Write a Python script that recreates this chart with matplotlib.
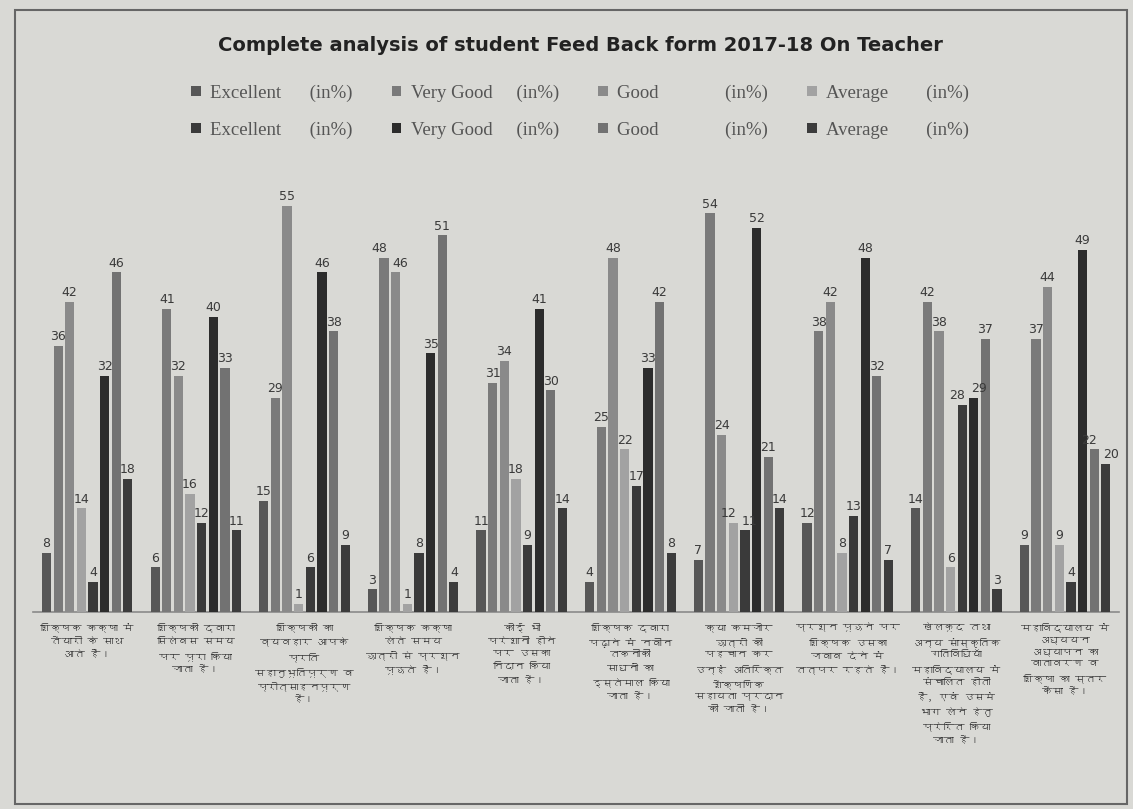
import numpy as np
import matplotlib
matplotlib.use("Agg")
import matplotlib.pyplot as plt
from matplotlib import font_manager
from matplotlib.ft2font import FT2Font
from matplotlib.patches import Rectangle

# ---------------- data ----------------
categories = [
    "शिक्षक कक्षा में\nतैयारी के साथ\nआते हैं।",
    "शिक्षकों द्वारा\nसिलेबस समय\nपर पूरा किया\nजाता है।",
    "शिक्षकों का\nव्यवहार आपके\nप्रति\nसहानुभूतिपूर्ण व\nप्रोत्साहनपूर्ण\nहै।",
    "शिक्षक कक्षा\nलेते समय\nछात्रों से प्रश्न\nपूछते हैं।",
    "कोई भी\nपरेशानी होने\nपर उसका\nनिदान किया\nजाता है।",
    "शिक्षक द्वारा\nपढ़ाने में नवीन\nतकनीकी\nसाधनों का\nइस्तेमाल किया\nजाता है।",
    "क्या कमजोर\nछात्रों की\nपहचान कर\nउन्हें अतिरिक्त\nशैक्षणिक\nसहायता प्रदान\nकी जाती है।",
    "प्रश्न पूछने पर\nशिक्षक उसका\nजवाब देने में\nतत्पर रहते हैं।",
    "खेलकूद तथा\nअन्य सांस्कृतिक\nगतिविधियाँ\nमहाविद्यालय में\nसंचालित होती\nहैं, एवं उसमें\nभाग लेने हेतु\nप्रेरित किया\nजाता है।",
    "महाविद्यालय में\nअध्ययन\nअध्यापन का\nवातावरण व\nशिक्षा का स्तर\nकैसा है।",
]

series_names = [
    "Excellent      (in%)", "Very Good     (in%)", "Good              (in%)", "Average        (in%)",
    "Excellent      (in%)", "Very Good     (in%)", "Good              (in%)", "Average        (in%)",
]

excellent_1 = [8, 6, 15, 3, 11, 4, 7, 12, 14, 9]
very_good_1 = [36, 41, 29, 48, 31, 25, 54, 38, 42, 37]
good_1      = [42, 32, 55, 46, 34, 48, 24, 42, 38, 44]
average_1   = [14, 16, 1, 1, 18, 22, 12, 8, 6, 9]
excellent_2 = [4, 12, 6, 8, 9, 17, 11, 13, 28, 4]
very_good_2 = [32, 40, 46, 35, 41, 33, 52, 48, 29, 49]
good_2      = [46, 33, 38, 51, 30, 42, 21, 32, 37, 22]
average_2   = [18, 11, 9, 4, 14, 8, 14, 7, 3, 20]

series_values = [excellent_1, very_good_1, good_1, average_1,
                 excellent_2, very_good_2, good_2, average_2]

title = "Complete analysis of student Feed Back form 2017-18 On Teacher"

# ---------------- styles ----------------
colors = ["#575757", "#7a7a7a", "#8a8a8a", "#a2a2a2",
          "#3a3a3a", "#2c2c2c", "#727272", "#3c3c3c"]
bg = "#d9d9d5"


def find_devanagari_font():
    for fe in font_manager.fontManager.ttflist:
        try:
            f = FT2Font(fe.fname)
            cm = f.get_charmap()
            if 0x0915 in cm and 0x093F in cm:
                return fe.name
        except Exception:
            continue
    return None


deva = find_devanagari_font()
label_family = [deva, "DejaVu Sans"] if deva else ["DejaVu Sans"]

fig = plt.figure(figsize=(11.33, 8.09), dpi=100, facecolor=bg)
ax = fig.add_axes([0.029, 0.244, 0.959, 0.547], facecolor=bg)

n_series = len(series_values)
x = np.arange(len(categories))
slot = 0.107
width = 0.085
bars_all = []
labels_all = []
for i, vals in enumerate(series_values):
    offs = (i - (n_series - 1) / 2) * slot
    bars = ax.bar(x + offs, vals, width, color=colors[i], label=series_names[i],
                  edgecolor="none", zorder=3)
    bars_all.append(bars)
    anns = ax.bar_label(bars, labels=[str(v) for v in vals], padding=2, fontsize=9,
                        color="#3a3a3a", family="DejaVu Sans", zorder=6)
    labels_all.append(anns)

# nudge apart data labels of neighbouring bars with nearly equal heights
for g in range(len(categories)):
    for i in range(n_series - 1):
        a, b = series_values[i][g], series_values[i + 1][g]
        if abs(a - b) <= 2 and a >= 10 and b >= 10:
            labels_all[i][g].xyann = (-3.5, 2)
            labels_all[i + 1][g].xyann = (3.5, 2)

ax.set_xlim(-0.5, len(categories) - 0.5)
ax.set_ylim(0, 60)
ax.set_yticks([])
for s in ["left", "right", "top"]:
    ax.spines[s].set_visible(False)
ax.spines["bottom"].set_color("#8a8a8a")
ax.spines["bottom"].set_linewidth(1.2)
ax.set_xticks(x)
ax.set_xticklabels(categories, fontsize=7.5, family=label_family, style="italic",
                   color="#333333", linespacing=1.55)
ax.tick_params(axis="x", length=0, pad=8)

fig.text(0.512, 0.944, title, ha="center", va="center", fontsize=14,
         fontweight="bold", color="#222222", family="DejaVu Sans")

handles = [b for b in bars_all]
order = [0, 4, 1, 5, 2, 6, 3, 7]
leg = fig.legend([handles[k] for k in order], [series_names[k] for k in order],
                 loc="center", bbox_to_anchor=(0.512, 0.862), ncol=4, frameon=False,
                 prop={"family": "Liberation Serif", "size": 13.5},
                 handlelength=0.5, handleheight=0.5, handletextpad=0.5,
                 columnspacing=2.1, labelspacing=1.05)
for t in leg.get_texts():
    t.set_color("#555555")

fig.patches.append(Rectangle((0.013, 0.006), 0.982, 0.982, transform=fig.transFigure,
                             fill=False, edgecolor="#666666", linewidth=1.5))

fig.savefig("out.png", dpi=100, facecolor=bg)
